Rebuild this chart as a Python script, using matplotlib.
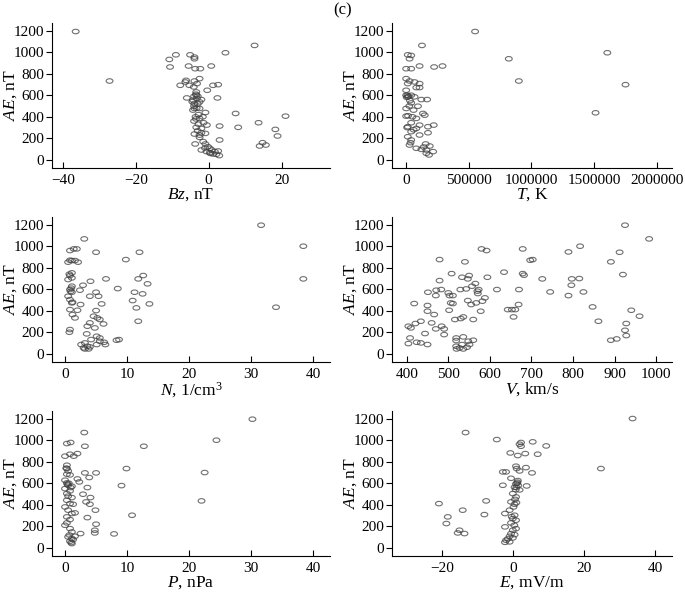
import numpy as np
import matplotlib
matplotlib.use('Agg')
from matplotlib import pyplot as plt
from matplotlib.path import Path
from matplotlib.transforms import Affine2D

plt.rcParams['font.family'] = ['Liberation Serif', 'DejaVu Serif']
plt.rcParams['mathtext.fontset'] = 'custom'
plt.rcParams['mathtext.rm'] = 'Liberation Serif'
plt.rcParams['mathtext.it'] = 'Liberation Serif:italic'
plt.rcParams['axes.unicode_minus'] = True

# ---- data ----
bz = [-36.5, -27.2, 12.6, 4.6, -9.0, -10.8, -5.1, -3.9, -3.9, -10.6, -5.5, -3.7, -2.3, 0.7,
      -6.2, -6.4, -3.9, -2.5, -3.2, -7.8, -5.3, -4.1, 1.2, 2.6, -0.4, -3.4, -3.4, -3.0,
      -6.0, 2.4, -4.3, -2.0, -3.9, -2.5, -3.9, -2.5, -4.3, -0.9, 7.4, 21.1, -1.6, -2.5,
      -3.6, -1.4, -2.8, 13.7, 3.0, 8.1, -3.4, -2.0, -0.5, 18.3, -3.9, -0.9, -2.0, 18.9,
      -2.5, 3.0, 14.8, 15.7, 14.0, -3.7, -0.9, -0.2, -2.0, 0.3, 0.9, 1.7, 2.6, 2.1, 2.9,
      -0.6, 1.2, 0.3, -3.5, -4.0, -3.2, -4.5, -3.0, -4.0, -3.3, -2.8, -3.5, -4.0, -3.0,
      -2.5, -1.5, -1.0, 0.5]
ae_bz = [1191, 732, 1062, 994, 975, 932, 975, 954, 938, 862, 871, 846, 846, 871,
         738, 723, 732, 754, 708, 692, 692, 677, 692, 698, 646, 631, 600, 591,
         575, 575, 554, 560, 523, 538, 477, 477, 462, 440, 431, 406, 400, 385,
         400, 345, 332, 345, 314, 302, 302, 292, 323, 283, 240, 246, 252, 222,
         209, 185, 160, 138, 129, 148, 148, 123, 92, 108, 92, 77, 83, 52, 40,
         77, 55, 68, 610, 590, 570, 540, 520, 500, 480, 420, 380, 360, 270,
         230, 170, 110, 60]

temp = [550e3, 126e3, 1605e3, 819e3, 13e3, 40e3, 27e3, 0, 40e3, 107e3, 223e3, 290e3,
        899e3, 1750e3, 1511e3, 0, 27e3, 67e3, 107e3, 13e3, 81e3, 107e3, 0, 40e3, 0,
        13e3, 67e3, 121e3, 167e3, 40e3, 94e3, 0, 59e3, 134e3, 148e3, 0, 81e3, 40e3,
        107e3, 220e3, 13e3, 174e3, 81e3, 40e3, 174e3, 107e3, 13e3, 40e3, 27e3, 156e3,
        81e3, 188e3, 161e3, 215e3, 161e3, 182e3, 121e3, 10e3, 20e3, 5e3, 30e3, 15e3,
        50e3, 8e3, 60e3, 140e3, 35e3, 25e3]
ae_t = [1191, 1062, 994, 938, 975, 969, 938, 846, 846, 871, 862, 871,
        732, 698, 437, 754, 732, 723, 708, 708, 671, 671, 646, 600, 600,
        585, 585, 560, 560, 529, 498, 477, 462, 431, 415, 406, 385, 345,
        323, 323, 308, 308, 292, 262, 252, 231, 215, 185, 138, 148,
        108, 129, 92, 77, 62, 46, 98, 600, 590, 580, 550, 410, 400, 300,
        280, 120, 160, 500]

dens = [31.6, 38.4, 38.4, 34.0, 3.1, 5.0, 12.0, 0.8, 1.4, 1.9, 9.8, 0.8, 1.1, 1.6, 2.1,
        0.5, 1.1, 0.8, 1.1, 0.5, 4.1, 6.6, 12.6, 11.8, 13.3, 2.9, 1.1, 0.8, 2.4, 8.5,
        1.1, 5.0, 11.2, 12.5, 5.4, 4.0, 0.5, 0.8, 10.9, 1.1, 2.5, 5.9, 13.6, 11.5, 0.8,
        2.0, 5.0, 1.2, 1.6, 4.6, 5.2, 5.6, 4.0, 6.2, 11.8, 3.6, 4.8, 0.7, 0.8, 3.5,
        5.1, 5.6, 4.2, 8.3, 8.7, 3.2, 5.6, 6.3, 2.6, 5.1, 6.5, 3.6, 4.0, 3.2, 3.8, 3.0,
        1.0, 0.9, 1.2, 0.7]
ae_n = [1194, 999, 696, 433, 1067, 943, 943, 959, 974, 974, 875, 869, 866, 866, 851,
        851, 752, 727, 705, 690, 674, 696, 727, 696, 650, 637, 628, 597, 591, 606,
        572, 572, 572, 557, 535, 535, 535, 504, 495, 473, 458, 464, 464, 427, 411,
        405, 402, 365, 334, 350, 334, 319, 288, 278, 303, 257, 241, 201, 226, 186,
        164, 148, 133, 127, 133, 102, 118, 108, 87, 87, 87, 71, 65, 46, 46, 56,
        610, 580, 480, 740]

vel = [925, 983, 817, 679, 580, 592, 789, 912, 479, 540, 697, 703, 891, 634, 508, 679,
       682, 920, 550, 533, 547, 594, 479, 726, 797, 815, 565, 471, 483, 557, 543, 529,
       573, 617, 670, 570, 796, 451, 470, 500, 503, 511, 571, 825, 745, 789, 588, 567,
       547, 506, 511, 582, 418, 555, 669, 450, 847, 643, 661, 653, 450, 502, 578, 940,
       466, 657, 536, 530, 516, 560, 434, 421, 460, 861, 960, 928, 404, 410, 484, 470,
       490, 925, 444, 490, 404, 408, 424, 434, 450, 519, 536, 519, 560, 548, 928, 891,
       905, 519, 527, 545, 536, 520, 551, 533]
ae_v = [1194, 1067, 999, 974, 974, 959, 946, 943, 875, 854, 869, 875, 854, 758, 745, 745,
        730, 736, 727, 711, 696, 711, 680, 696, 696, 699, 653, 591, 597, 628, 603, 597,
        597, 597, 597, 582, 637, 572, 541, 566, 541, 541, 560, 575, 575, 541, 520, 473,
        495, 473, 467, 489, 467, 458, 458, 449, 436, 411, 411, 411, 396, 405, 396, 405,
        365, 343, 343, 328, 319, 319, 303, 282, 288, 303, 350, 282, 257, 241, 257, 232,
        232, 219, 189, 179, 96, 148, 108, 102, 87, 148, 158, 124, 127, 118, 170, 127,
        139, 71, 56, 62, 46, 46, 87, 87]

pres = [30.2, 24.4, 3.1, 12.7, 3.2, 0.3, 0.9, 9.9, 22.5, 22.0, 9.1, 10.8, 7.9, 0, 0.8,
        2.0, 1.4, 3.2, 5.0, 3.9, 2.0, 2.3, 3.6, 2.9, 4.1, 3.4, 4.0, 4.9, 3.6, 5.0, 4.8,
        4.8, 2.5, 0.3, 0.3, 0.5, 0.3, 0.8, 0, 0.3, 0.5, 1.1, 0, 0.8, 0.3, 0.5, 1.1, 0.3,
        0.8, 1.3, 0, 0.5, 1.1, 1.6, 0.3, 0.8, 0.3, 0, 0.8, 1.1, 0.5, 1.1, 0.8, 1.1, 1.3,
        1.6, 0.6, 0.4, 0.9, 0.2, 0.7, 1.0]
ae_p = [1194, 999, 1070, 943, 943, 968, 978, 736, 699, 436, 578, 303, 130, 851, 869,
        875, 851, 696, 696, 653, 640, 612, 560, 498, 467, 427, 405, 350, 281, 220, 164,
        139, 133, 767, 736, 714, 684, 677, 628, 603, 581, 572, 550, 529, 504, 480, 467,
        442, 411, 405, 380, 350, 319, 325, 288, 263, 232, 210, 179, 148, 102, 87, 62,
        40, 77, 108, 600, 590, 560, 740, 120, 50]

efld = [33.7, -13.3, -4.5, 2.3, 5.6, 9.4, 1.9, 2.3, -0.7, 3.5, 7.0, 1.4, 24.8, -2.8,
        -1.9, 5.4, 3.7, 0.9, 1.1, 1.9, -0.5, -2.8, 3.9, 1.4, 0.9, 0.5, 1.9, 0, 0.9,
        -7.5, -0.5, 0.5, -20.8, -14.1, -2.2, -8.0, -18.3, -18.7, -0.9, 0.5, 0, 0.9,
        -0.5, -2.2, 0.9, -15.0, -15.5, -13.6, 0, -0.5, -0.9, -1.4, -1.9, -0.9, -2.2,
        0, 0.5, 1.2, 1.5, 1.0, 0.8, 1.3, 0.6, 0.2, 1.0, -0.3, 0.4]
ae_e = [1200, 1070, 1005, 978, 984, 946, 962, 943, 881, 875, 869, 857, 736, 705,
        705, 696, 745, 758, 736, 714, 646, 581, 575, 625, 594, 563, 538, 504, 473,
        436, 427, 405, 411, 350, 319, 309, 288, 226, 350, 303, 272, 257,
        232, 195, 179, 164, 139, 133, 164, 133, 108, 84, 71, 56, 52,
        93, 123, 600, 580, 560, 540, 610, 450, 380, 420, 290, 210]

panels = [
    (bz, ae_bz, r'$Bz$, nT', (-43, 33.3), [-40, -20, 0, 20]),
    (temp, ae_t, r'$T$, K', (-113e3, 2.121e6), [0, 500000, 1000000, 1500000, 2000000]),
    (dens, ae_n, r'$N$, 1/cm$^3$', (-2.1, 42.7), [0, 10, 20, 30, 40]),
    (vel, ae_v, r'$V$, km/s', (364.6, 1038), [400, 500, 600, 700, 800, 900, 1000]),
    (pres, ae_p, r'$P$, nPa', (-2.1, 42.7), [0, 10, 20, 30, 40]),
    (efld, ae_e, r'$E$, mV/m', (-34.0, 44.8), [-20, 0, 20, 40]),
]

# axes rectangles in pixels (left spine x, bottom spine y, right end)
W, H = 685, 597
lefts = [52, 392]
bottoms = [168, 362, 556]
rights = [330, 672]
ax_h = 145

# flattened ellipse marker
ell = Path.unit_circle().transformed(Affine2D().scale(1.0, 0.66))

fig = plt.figure(figsize=(W / 100, H / 100), dpi=100)

for i, (xs, ys, xlabel, xlim, xticks) in enumerate(panels):
    r, c = divmod(i, 2)
    w = rights[c] - lefts[c]
    rect = [lefts[c] / W, (H - bottoms[r]) / H, w / W, ax_h / H]
    ax = fig.add_axes(rect)
    ax.scatter(xs, ys, marker=ell, s=24, facecolors='none',
               edgecolors='#404040', linewidths=0.8, alpha=0.75)
    ax.set_xlim(*xlim)
    ax.set_ylim(-75, 1270)
    ax.set_xticks(xticks)
    ax.set_xticklabels([str(v) if v >= 0 else '\u2212' + str(-v) for v in xticks])
    ax.set_yticks([0, 200, 400, 600, 800, 1000, 1200])
    ax.spines['top'].set_visible(False)
    ax.spines['right'].set_visible(False)
    ax.tick_params(axis='x', direction='in', length=4, pad=4, labelsize=11, width=0.8)
    ax.tick_params(axis='y', direction='out', length=4, pad=1.5, labelsize=11, width=0.8)
    ax.set_xlabel(xlabel, fontsize=12.5, labelpad=0)
    ax.set_ylabel(r'$AE$, nT', fontsize=12.5)
    ax.yaxis.set_label_coords((19 - 52) / w, 0.5)

fig.text(0.5, 0.982, '(c)', ha='center', va='center', fontsize=12)

plt.savefig('out.png', dpi=100)
